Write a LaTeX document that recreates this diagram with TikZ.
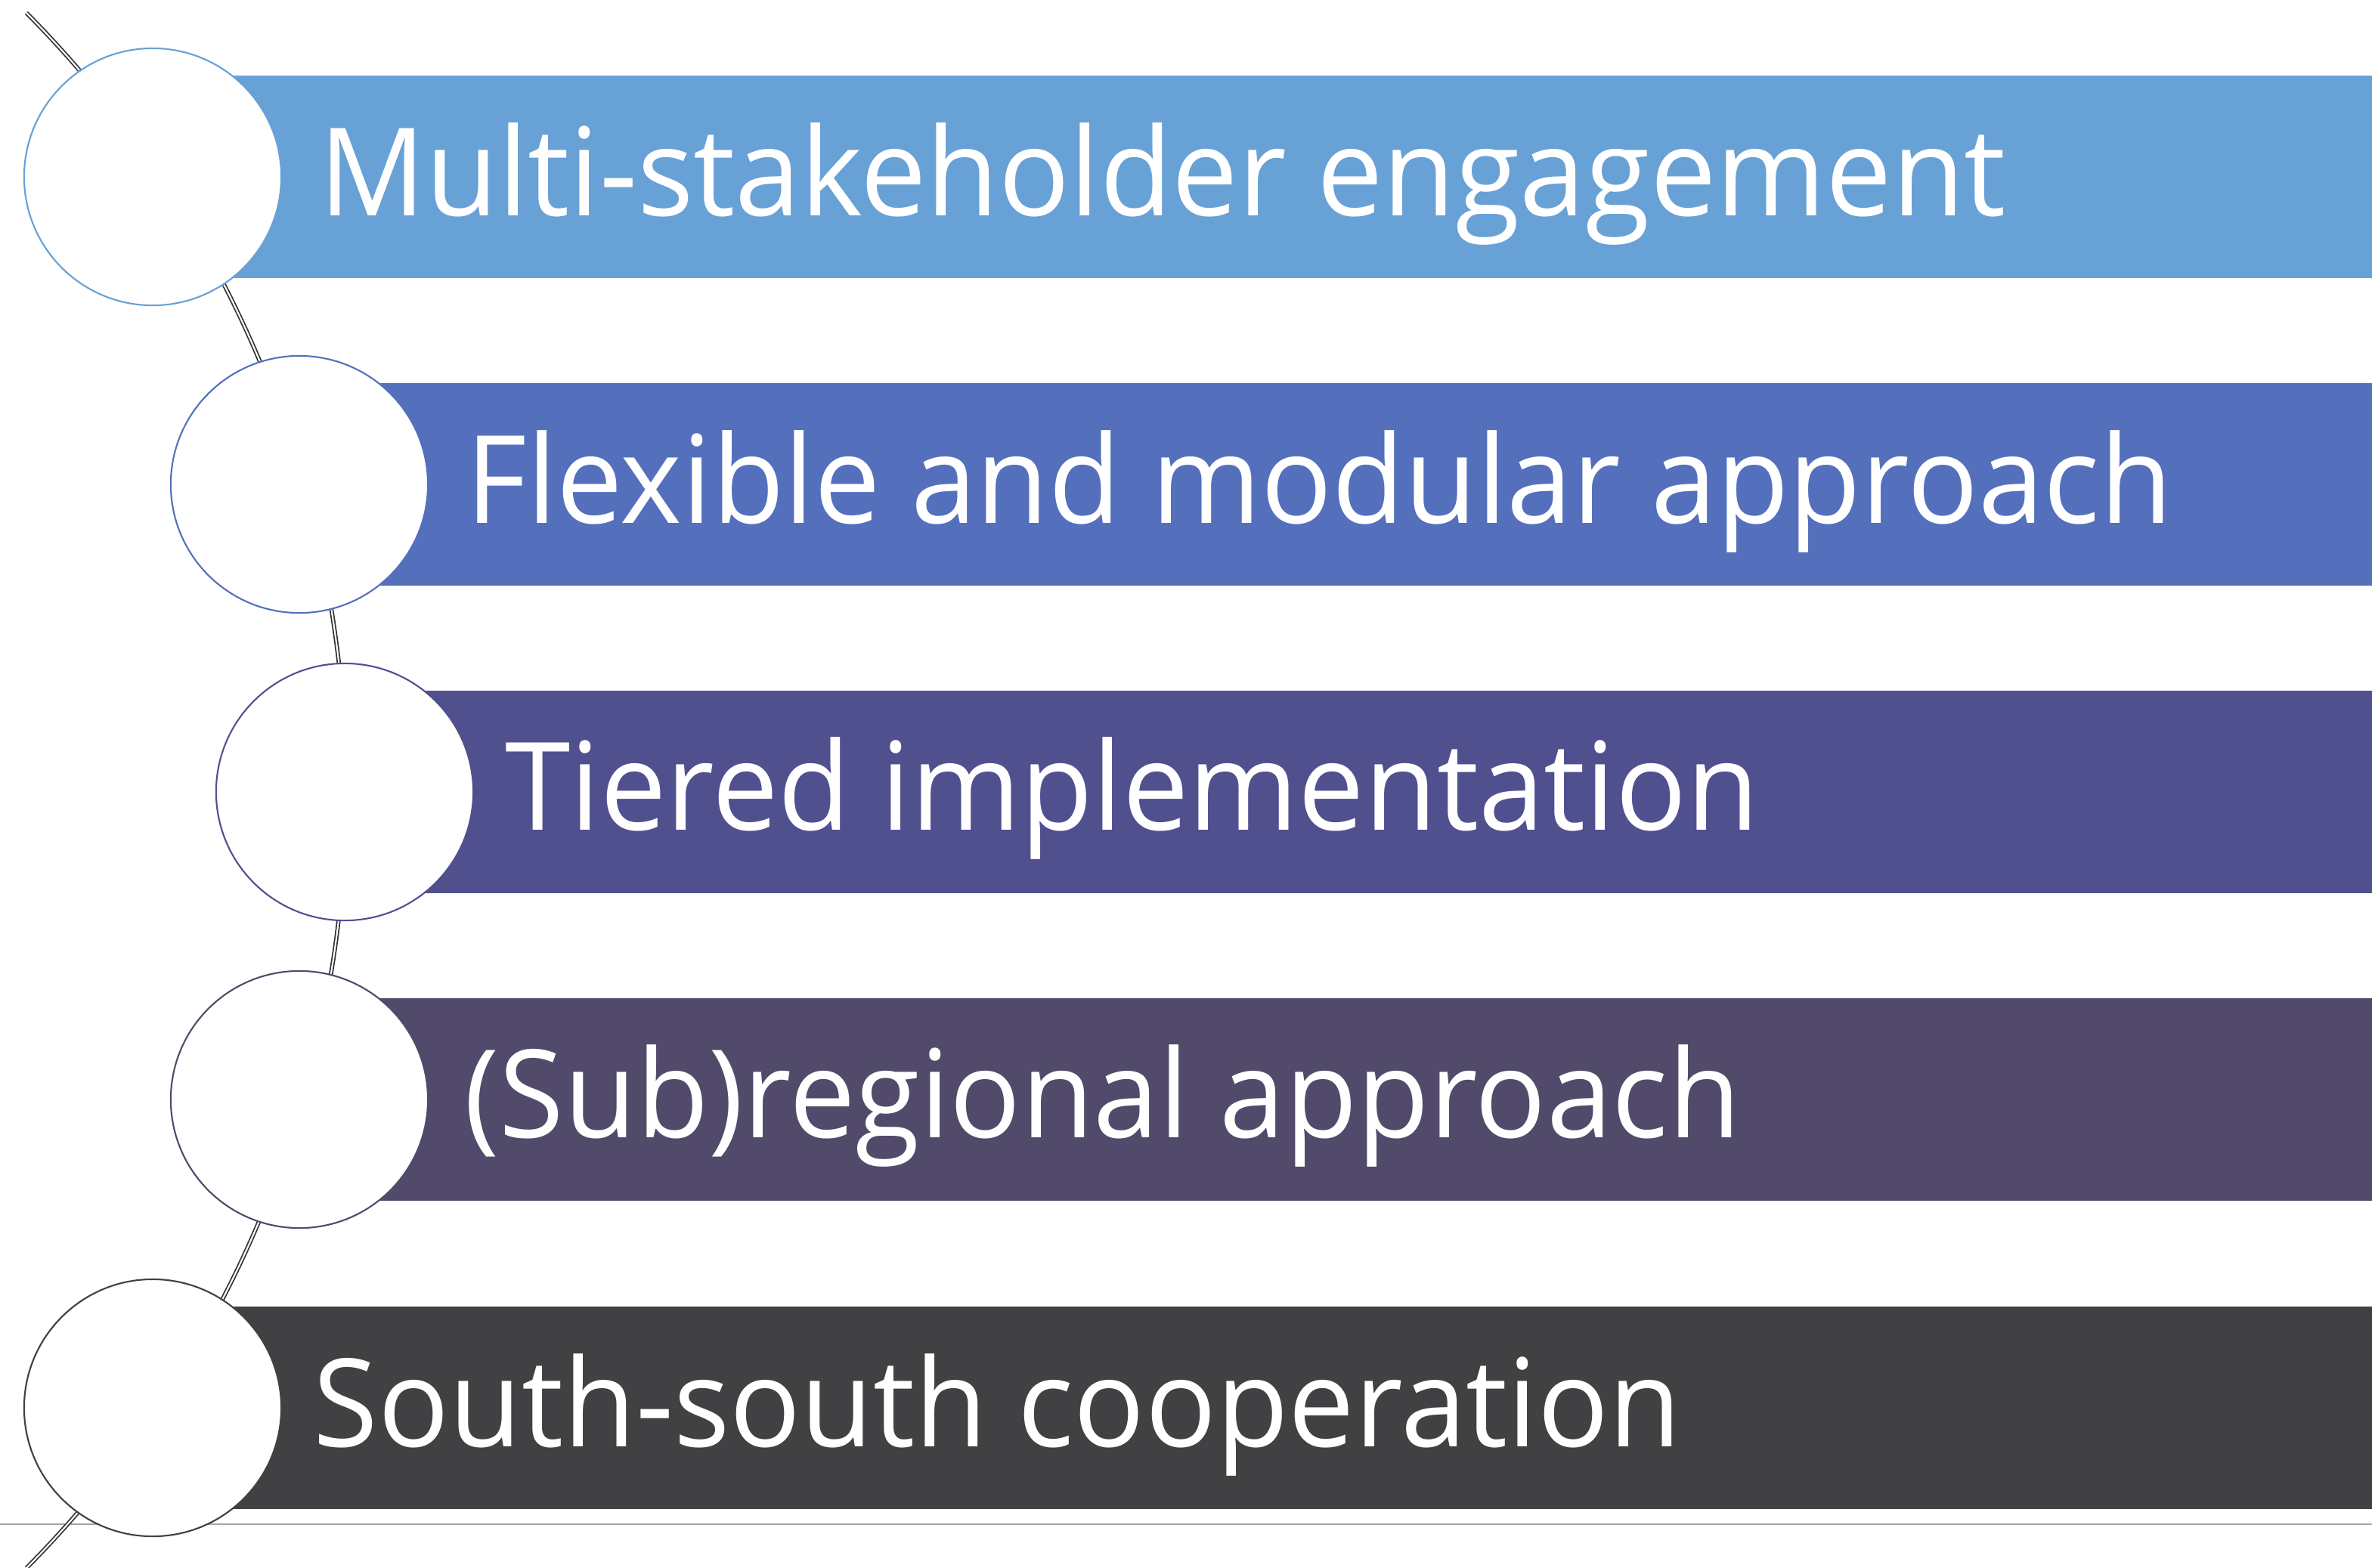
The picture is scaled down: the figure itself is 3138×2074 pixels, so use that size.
\documentclass[tikz,border=0pt]{standalone}
\usepackage{fontspec}
\setmainfont{Open Sans}[FakeStretch=0.964]
\usepackage{tikz}

\definecolor{barone}{HTML}{68A1D6}
\definecolor{bartwo}{HTML}{5470BC}
\definecolor{barthree}{HTML}{51508F}
\definecolor{barfour}{HTML}{514A6A}
\definecolor{barfive}{HTML}{414143}

\begin{document}
\begin{tikzpicture}[x=0.01cm,y=-0.01cm,
    stepdot/.style={circle,draw=#1,fill=white,line width=0.6pt,minimum size=3.4cm,inner sep=0pt},
    steptext/.style={anchor=base west,inner sep=0pt,text=white,font=\fontsize{46}{50}\selectfont},
    spine/.style={draw=black!80,double=white,double distance=0.6pt,line width=0.5pt}]
          \useasboundingbox (0,0) rectangle (3138,2074);
          % bars
          \fill[barone] (202,100) rectangle (3138,368);
          \fill[bartwo] (396,507) rectangle (3138,775);
          \fill[barthree] (456,914) rectangle (3138,1182);
          \fill[barfour] (396,1321) rectangle (3138,1589);
          \fill[barfive] (202,1729) rectangle (3138,1997);
          \draw[gray!70,line width=0.8pt] (0,2017) -- (3138,2017);
          \draw[spine] (35,17) arc[start angle=-44.7,end angle=44.7,radius=1463];
          % circles
          \node[stepdot=barone] (c1) at (202,234) {};
          \node[stepdot=bartwo] (c2) at (396,641) {};
          \node[stepdot=barthree] (c3) at (456,1048) {};
          \node[stepdot=barfour] (c4) at (396,1455) {};
          \node[stepdot=barfive] (c5) at (202,1863) {};
          % labels
          \node[steptext] (t1) at (422,285) {Multi-stakeholder engagement};
          \node[steptext] (t2) at (616,692) {Flexible and modular approach};
          \node[steptext] (t3) at (668,1098) {Tiered implementation};
          \node[steptext] (t4) at (614,1505) {(Sub)regional approach};
          \node[steptext] (t5) at (414,1914) {South-south cooperation};
\end{tikzpicture}
\end{document}
